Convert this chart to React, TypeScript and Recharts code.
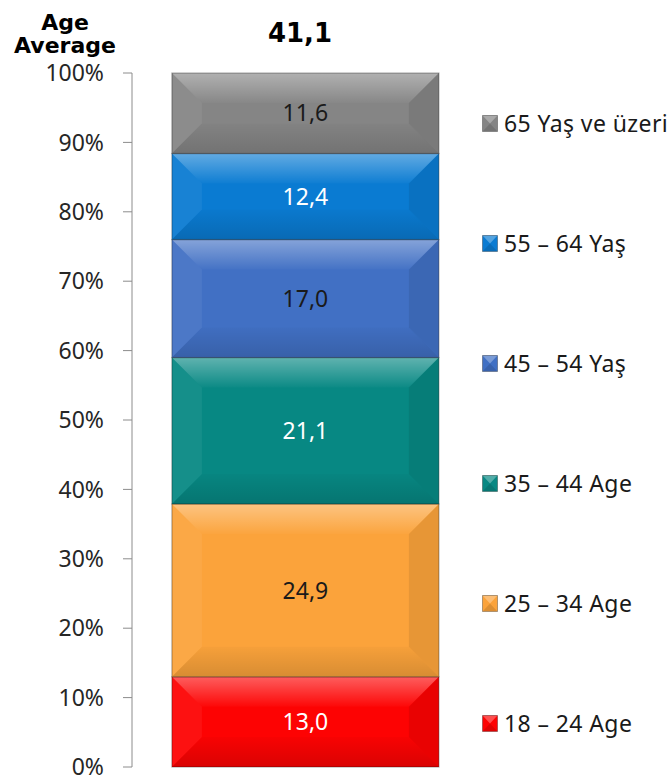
import React from 'react';
import { BarChart, Bar, XAxis, YAxis, LabelList } from 'recharts';

const categories = ['Age'];
const seriesKeys = ['a18', 'a25', 'a35', 'a45', 'a55', 'a65'];
const seriesNames = ['18 – 24 Age', '25 – 34 Age', '35 – 44 Age', '45 – 54 Yaş', '55 – 64 Yaş', '65 Yaş ve üzeri'];
const seriesValues = [13.0, 24.9, 21.1, 17.0, 12.4, 11.6];
const seriesColors = ['#FD0303', '#FBA33B', '#078883', '#4170C4', '#0A7BD2', '#858585'];
const labelColors = ['#ffffff', '#1a1a1a', '#ffffff', '#1a1a1a', '#ffffff', '#1a1a1a'];
const yTicks = [0, 10, 20, 30, 40, 50, 60, 70, 80, 90, 100];
const averageAge = 41.1;

const data = categories.map((name) => {
  const row: Record<string, any> = { name };
  seriesKeys.forEach((k, i) => { row[k] = seriesValues[i]; });
  return row;
});

const comma = (v: any) => Number(v).toFixed(1).replace('.', ',');

const BevelDefs = () => (
  <defs>
    <linearGradient id="bvTop" x1="0" y1="0" x2="0" y2="1">
      <stop offset="0" stopColor="#fff" stopOpacity={0.36} />
      <stop offset="1" stopColor="#fff" stopOpacity={0.02} />
    </linearGradient>
    <linearGradient id="bvBot" x1="0" y1="0" x2="0" y2="1">
      <stop offset="0" stopColor="#000" stopOpacity={0.02} />
      <stop offset="1" stopColor="#000" stopOpacity={0.14} />
    </linearGradient>
  </defs>
);

// segment with an Excel-like bevel
const BevelBar = (props: any) => {
  const { x, y, width: w, height: h, fill } = props;
  if (!w || !h) return null;
  const b = Math.min(30, h / 2, w / 2);
  return (
    <g>
      <BevelDefs />
      <rect x={x} y={y} width={w} height={h} fill={fill} />
      <polygon points={`${x},${y} ${x + b},${y + b} ${x + b},${y + h - b} ${x},${y + h}`} fill="#fff" fillOpacity={0.06} />
      <polygon points={`${x + w},${y} ${x + w - b},${y + b} ${x + w - b},${y + h - b} ${x + w},${y + h}`} fill="#000" fillOpacity={0.08} />
      <polygon points={`${x},${y} ${x + w},${y} ${x + w - b},${y + b} ${x + b},${y + b}`} fill="url(#bvTop)" />
      <polygon points={`${x},${y + h} ${x + w},${y + h} ${x + w - b},${y + h - b} ${x + b},${y + h - b}`} fill="url(#bvBot)" />
      <rect x={x} y={y} width={w} height={h} fill="none" stroke="#000" strokeOpacity={0.3} strokeWidth={1.2} />
    </g>
  );
};

const LegendBox = ({ color }: { color: string }) => (
  <svg width={16} height={17} style={{ display: 'block' }}>
    <rect x={0.5} y={0.5} width={15} height={16} fill={color} stroke="#000" strokeOpacity={0.3} />
    <polygon points="1,1 15,1 8,8.5" fill="#fff" fillOpacity={0.3} />
    <polygon points="1,16 15,16 8,8.5" fill="#000" fillOpacity={0.12} />
  </svg>
);

const textFont = '"Noto Sans", "Open Sans", sans-serif';

export default function App() {
  const order = seriesKeys.map((_, i) => i).reverse();
  return (
    <div style={{ position: 'absolute', left: 0, top: 0, width: 670, height: 781, background: '#fff' }}>
      <BarChart width={670} height={781} data={data} margin={{ top: 73, right: 191, bottom: 14, left: 0 }} barCategoryGap="11.5%">
        <XAxis dataKey="name" height={0} tick={false} tickLine={false} axisLine={{ stroke: '#000', strokeWidth: 1.2 }} />
        <YAxis
          width={132}
          domain={[0, 100]}
          ticks={yTicks}
          interval={0}
          tickFormatter={(v) => `${v}%`}
          tickSize={9}
          tickMargin={19}
          axisLine={{ stroke: '#8c8c8c' }}
          tickLine={{ stroke: '#8c8c8c' }}
          tick={{ fill: '#262626', fontSize: 23, fontFamily: textFont }}
        />
        {seriesKeys.map((k, i) => (
          <Bar key={k} dataKey={k} name={seriesNames[i]} stackId="s" fill={seriesColors[i]} shape={<BevelBar />} isAnimationActive={false}>
            <LabelList dataKey={k} position="center" formatter={comma} fill={labelColors[i]} fontSize={23} fontFamily={textFont} />
          </Bar>
        ))}
      </BarChart>

      <svg width={670} height={60} style={{ position: 'absolute', left: 0, top: 0 }}>
        <text x={65} y={30} textAnchor="middle" fontFamily="DejaVu Sans" fontWeight="bold" fontSize={22} fill="#000">Age</text>
        <text x={65} y={53} textAnchor="middle" fontFamily="DejaVu Sans" fontWeight="bold" fontSize={22} fill="#000">Average</text>
        <text x={300} y={42} textAnchor="middle" fontFamily="DejaVu Sans" fontWeight="bold" fontSize={26} fill="#000">{comma(averageAge)}</text>
      </svg>

      <div style={{ position: 'absolute', left: 482, top: 113, display: 'flex', flexDirection: 'column', gap: 100 }}>
        {order.map((i) => (
          <div key={seriesKeys[i]} style={{ display: 'flex', alignItems: 'center', height: 20 }}>
            <LegendBox color={seriesColors[i]} />
            <span style={{ marginLeft: 6, fontFamily: textFont, fontSize: 23, letterSpacing: 0.4, color: '#1a1a1a', whiteSpace: 'nowrap', lineHeight: '20px' }}>
              {seriesNames[i]}
            </span>
          </div>
        ))}
      </div>
    </div>
  );
}
